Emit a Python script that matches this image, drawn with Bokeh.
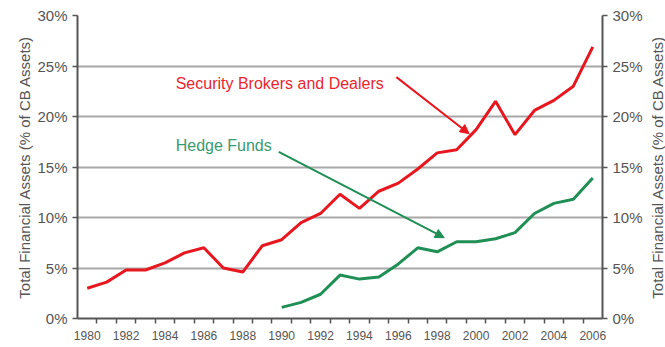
from bokeh.plotting import figure
from bokeh.layouts import row
from bokeh.models import (LinearAxis, FixedTicker, PrintfTickFormatter, Arrow,
                          NormalHead, Label, Range1d)
from bokeh.embed import file_html
from bokeh.resources import INLINE

# ---- data ----
years_brokers = list(range(1980, 2007))
brokers = [3.0, 3.6, 4.8, 4.8, 5.5, 6.5, 7.0, 5.0, 4.6, 7.2, 7.8, 9.5, 10.4, 12.3,
           10.9, 12.6, 13.4, 14.8, 16.4, 16.7, 18.7, 21.5, 18.2, 20.6, 21.6, 23.0, 26.9]
years_hedge = list(range(1990, 2007))
hedge = [1.1, 1.6, 2.4, 4.3, 3.9, 4.1, 5.4, 7.0, 6.6, 7.6, 7.6, 7.9, 8.5, 10.4,
         11.4, 11.8, 13.9]
y_ticks = [0, 5, 10, 15, 20, 25, 30]
x_label_years = list(range(1980, 2007, 2))
x_boundaries = [y + 0.5 for y in range(1980, 2006)]
y_title = "Total Financial Assets (% of CB Assets)"
label_brokers = "Security Brokers and Dealers"
label_hedge = "Hedge Funds"

RED = "#e8161e"
GREEN = "#1f8f55"
AXIS = "#555555"
FONT = "Liberation Sans"

p = figure(width=645, height=347, output_backend="svg", toolbar_location=None,
           x_range=Range1d(1979.5, 2006.5), y_range=Range1d(0, 30),
           min_border_left=77, min_border_right=41, min_border_top=15,
           min_border_bottom=29)
p.outline_line_color = None
p.background_fill_color = "white"
p.border_fill_color = "white"

# x axis
xa = p.xaxis[0]
xa.ticker = FixedTicker(ticks=x_label_years, minor_ticks=x_boundaries)
xa.major_tick_line_color = None
xa.major_tick_out = 0
xa.major_tick_in = 0
xa.minor_tick_out = 5
xa.minor_tick_in = 0
xa.minor_tick_line_color = AXIS
xa.minor_tick_line_width = 1.5
xa.axis_line_color = AXIS
xa.axis_line_width = 2
xa.major_label_text_font = FONT
xa.major_label_text_font_size = "12px"
xa.major_label_text_color = AXIS
xa.major_label_standoff = 7

# y axes
def style_y(ax, with_title):
    ax.ticker = FixedTicker(ticks=y_ticks)
    ax.formatter = PrintfTickFormatter(format="%d%%")
    ax.minor_tick_line_color = None
    ax.major_tick_out = 5
    ax.major_tick_in = 0
    ax.major_tick_line_color = AXIS
    ax.major_tick_line_width = 1.5
    ax.axis_line_color = AXIS
    ax.axis_line_width = 2
    ax.major_label_text_font = FONT
    ax.major_label_text_font_size = "15px"
    ax.major_label_text_color = AXIS
    ax.major_label_standoff = 5
    if with_title:
        ax.axis_label = y_title
        ax.axis_label_text_font = FONT
        ax.axis_label_text_font_size = "15px"
        ax.axis_label_text_font_style = "normal"
        ax.axis_label_text_color = AXIS
        ax.axis_label_standoff = 1

style_y(p.yaxis[0], True)
ra = LinearAxis()
style_y(ra, False)
p.add_layout(ra, "right")

p.xgrid.grid_line_color = None
p.ygrid.ticker = FixedTicker(ticks=y_ticks)
p.ygrid.grid_line_color = "#a8a8a8"
p.ygrid.grid_line_width = 2

p.line(years_brokers, brokers, line_color=RED, line_width=3)
p.line(years_hedge, hedge, line_color=GREEN, line_width=3)

# annotations
p.add_layout(Label(x=1984.55, y=23.3, text=label_brokers, text_color="#e8262f",
                   text_font=FONT, text_font_size="16px", text_baseline="middle"))
p.add_layout(Label(x=1984.55, y=17.1, text=label_hedge, text_color="#3a9a70",
                   text_font=FONT, text_font_size="16px", text_baseline="middle"))
p.add_layout(Arrow(x_start=1995.9, y_start=23.9, x_end=1999.64, y_end=18.3,
                   line_color=RED, line_width=2,
                   end=NormalHead(size=9, line_color=RED, fill_color=RED)))
p.add_layout(Arrow(x_start=1989.85, y_start=16.5, x_end=1998.36, y_end=8.0,
                   line_color=GREEN, line_width=2,
                   end=NormalHead(size=9, line_color=GREEN, fill_color=GREEN)))

# narrow strip carrying the right-hand title (reads bottom to top)
p2 = figure(width=20, height=347, output_backend="svg", toolbar_location=None,
            x_range=Range1d(0, 1), y_range=Range1d(0, 30),
            min_border_left=18, min_border_right=0, min_border_top=15,
            min_border_bottom=29)
p2.outline_line_color = None
p2.background_fill_color = "white"
p2.border_fill_color = "white"
p2.xaxis.visible = False
p2.grid.visible = False
ya2 = p2.yaxis[0]
ya2.ticker = FixedTicker(ticks=[])
ya2.major_tick_out = 0
ya2.major_tick_in = 0
ya2.minor_tick_out = 0
ya2.minor_tick_in = 0
ya2.axis_line_color = None
ya2.major_label_standoff = 0
ya2.axis_label = y_title
ya2.axis_label_text_font = FONT
ya2.axis_label_text_font_size = "15px"
ya2.axis_label_text_font_style = "normal"
ya2.axis_label_text_color = AXIS
ya2.axis_label_standoff = -1

open("out.html", "w").write(file_html(row(p, p2), INLINE))
